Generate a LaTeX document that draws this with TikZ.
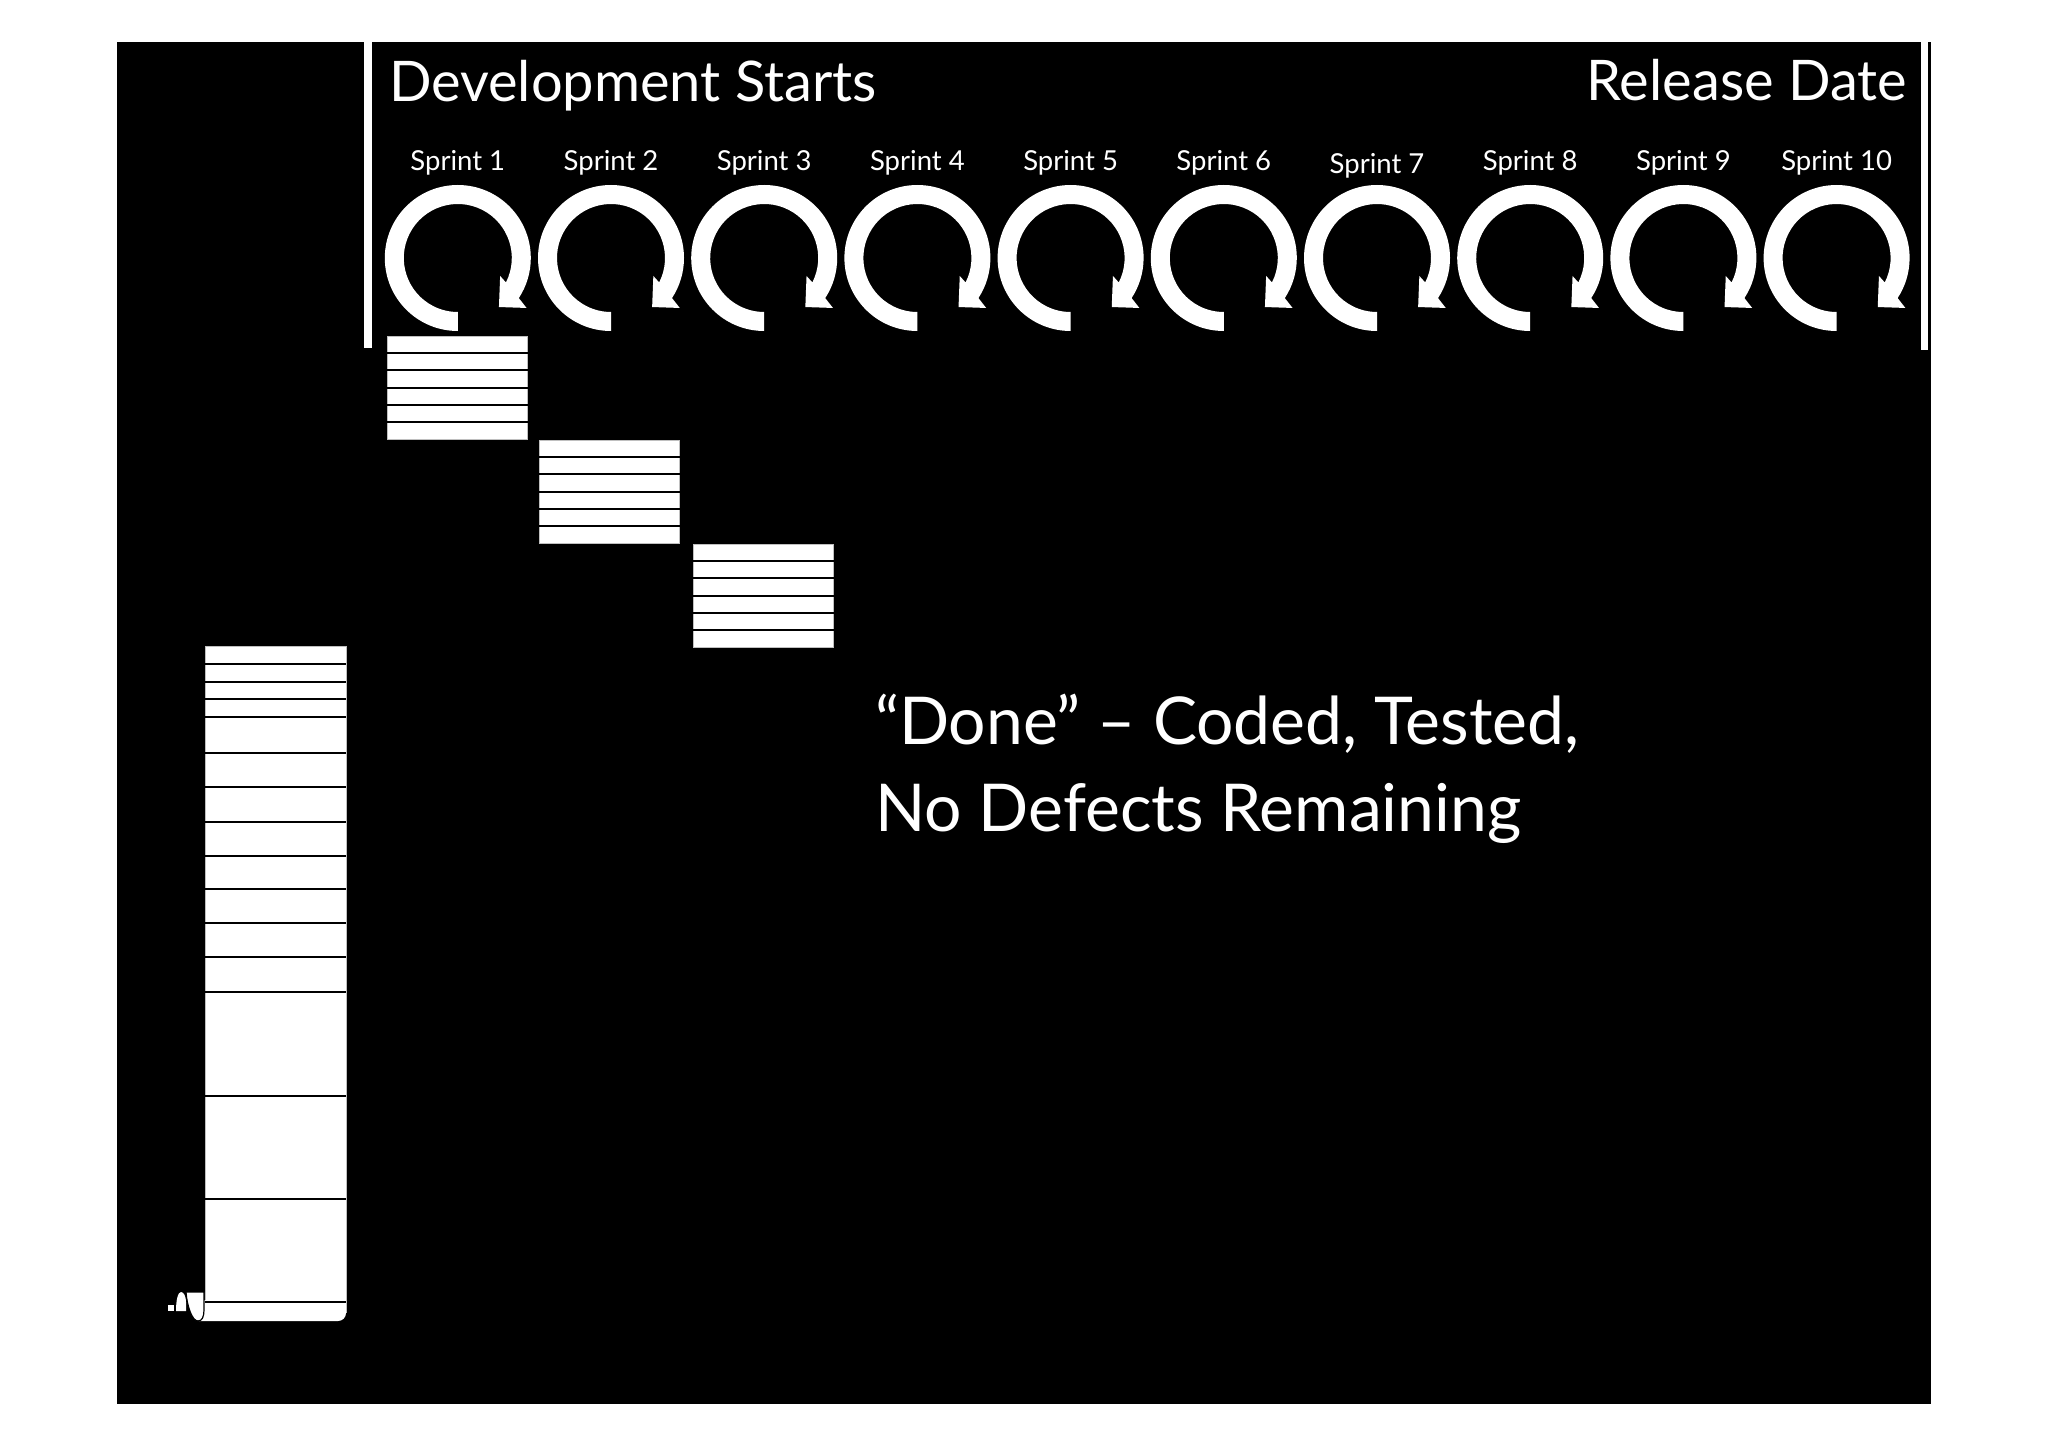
\documentclass[tikz,border=0pt]{standalone}
\usepackage{fontspec}
\setmainfont{Lato}
\begin{document}
\begin{tikzpicture}[x=1pt,y=1pt,yscale=-1,
  txt/.style={text=white, inner sep=0pt, outer sep=0pt},
  bigtxt/.style={txt, font=\fontsize{56}{62}\selectfont},
  sprinttxt/.style={txt, font=\fontsize{27.5}{30}\selectfont, anchor=base},
  donetxt/.style={txt, font=\fontsize{66}{72}\selectfont, anchor=base west},
  ring/.style={fill=white},
  rowbox/.style={fill=white, draw=gray!50, line width=0.5},
  sep/.style={draw=black, line width=2}]
\useasboundingbox (0,0) rectangle (2048,1447);
\fill[white] (0,0) rectangle (2048,1447);
\fill[black] (117,42) rectangle (1931,1404);
% vertical markers
\fill[white] (364,42) rectangle (372,348);
\fill[white] (1921,42) rectangle (1928,350);
% headings
\node[bigtxt, anchor=base west] (dev) at (389,102) {Development Starts};
\node[bigtxt, anchor=base east] (rel) at (1907,101) {Release Date};
% sprint loops
\foreach \i in {1,...,10}{
  \pgfmathsetmacro{\cx}{457.8+153.2*(\i-1)}
  \begin{scope}[shift={(\cx,258)}]
    \fill[ring] (90:73) arc[start angle=90, end angle=393.3, radius=73]
      -- (396:85) -- (410:64) -- (383:46) -- (386.9:54)
      arc[start angle=386.9, end angle=90, radius=54] -- cycle;
  \end{scope}
  \pgfmathsetmacro{\ly}{ifthenelse(\i==7,174,171)}
  \node[sprinttxt] (s\i) at (\cx,\ly) {Sprint \i};
}
% sprint backlogs
\foreach \bx/\by in {387/336, 539/440, 693/544}{
  \path[rowbox] (\bx,\by) rectangle ({\bx+140.5},{\by+103});
  \foreach \r in {1,...,5}{
    \draw[sep] (\bx,{\by+\r*17.17}) -- ({\bx+140.5},{\by+\r*17.17});
  }
}
% product backlog
\fill[white] (205,646.7) rectangle (346,1302);
\fill[white] (199,1300) -- (346,1300) -- (346,1313)
  arc[start angle=0, end angle=90, radius=8] -- (199,1321) -- cycle;
\draw[gray!50, line width=0.5] (205,1300) -- (205,646.7) -- (346,646.7) -- (346,1313);
\foreach \yy in {664.3,681.7,699.3,717.3,752.7,787.3,822,855.7,889.3,922.7,956.7,992.3,1095.7,1198.7,1301.7}{
  \draw[sep] (205,\yy) -- (346,\yy);
}
% scroll curl
\filldraw[fill=white, draw=black, line width=1.2] (186,1292) -- (204,1292) -- (204,1310)
  .. controls (204,1317) and (202,1321) .. (198,1321)
  .. controls (192,1321) and (187,1306) .. (186,1292) -- cycle;
\fill[white] (176,1311) .. controls (176,1300) and (178,1292) .. (181,1292)
  .. controls (184,1292) and (186,1297) .. (186,1302) -- (186,1311) -- cycle;
\fill[white] (168,1305) rectangle (174,1311);
% done text
\node[donetxt] (done1) at (875,744) {“Done” – Coded, Tested,};
\node[donetxt] (done2) at (875,831) {No Defects Remaining};
\end{tikzpicture}
\end{document}
